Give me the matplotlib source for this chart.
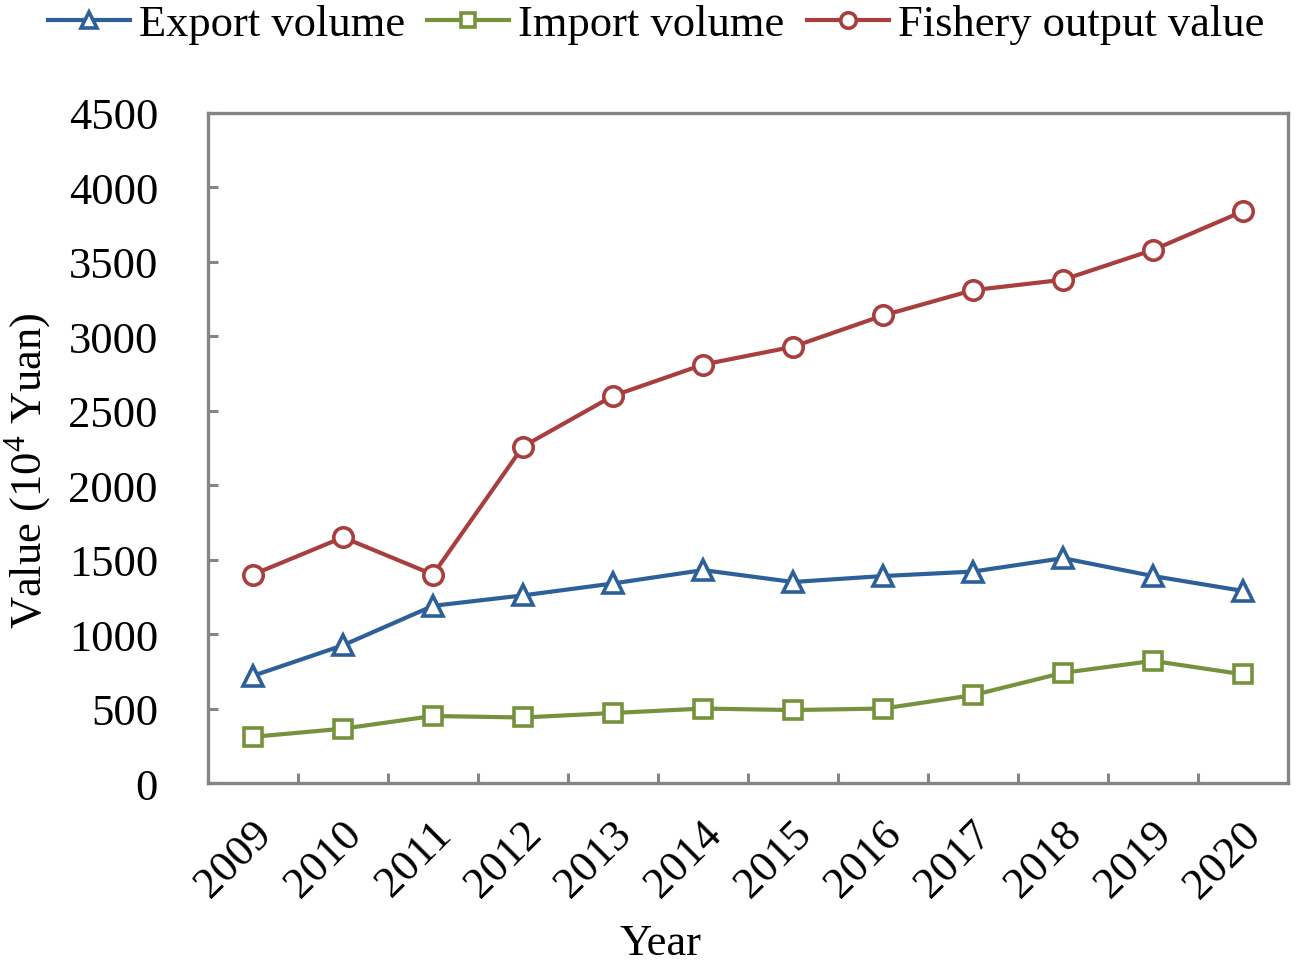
import matplotlib
matplotlib.use('Agg')
import matplotlib.pyplot as plt
import matplotlib.transforms as mtransforms

years = ['2009', '2010', '2011', '2012', '2013', '2014',
         '2015', '2016', '2017', '2018', '2019', '2020']
export_volume = [720, 925, 1190, 1260, 1340, 1430, 1350, 1390, 1420, 1510, 1390, 1290]
import_volume = [310, 365, 450, 440, 470, 500, 490, 500, 590, 740, 820, 730]
fishery_value = [1400, 1650, 1400, 2260, 2600, 2810, 2930, 3140, 3310, 3380, 3580, 3840]
y_ticks = [0, 500, 1000, 1500, 2000, 2500, 3000, 3500, 4000, 4500]

plt.rcParams['font.family'] = ['Liberation Serif', 'DejaVu Serif']
plt.rcParams['mathtext.fontset'] = 'custom'
plt.rcParams['mathtext.rm'] = 'Liberation Serif'

fig = plt.figure(figsize=(12.99, 9.62), dpi=100)
ax = fig.add_axes([208/1299, 1-784/962, (1288-208)/1299, (784-114)/962])

x = list(range(len(years)))
axis_grey = '#858585'
fs = 32

ax.plot(x, export_volume, color='#2D5F99', lw=3, marker='^', ms=14,
        mfc='white', mec='#2D5F99', mew=2.6, label='Export volume')
ax.plot(x, import_volume, color='#76923C', lw=3, marker='s', ms=13,
        mfc='white', mec='#76923C', mew=2.6, label='Import volume')
ax.plot(x, fishery_value, color='#A93E3E', lw=3, marker='o', ms=14,
        mfc='white', mec='#A93E3E', mew=2.6, label='Fishery output value')

ax.set_xlim(-0.5, len(years) - 0.5)
ax.set_ylim(0, 4500)
ax.set_yticks(y_ticks)
ax.set_yticklabels([str(v) for v in y_ticks], fontsize=fs)

# category labels at the points, tick marks between categories (Excel style)
ax.set_xticks(x)
ax.set_xticklabels(years, fontsize=fs, rotation=45, ha='right', va='center',
                   rotation_mode='anchor')
ax.set_xticks([i + 0.5 for i in range(len(years) - 1)], minor=True)
ax.tick_params(axis='x', which='major', length=0, pad=32)
ax.tick_params(axis='x', which='minor', direction='in', length=7, width=2.2,
               color=axis_grey)
ax.tick_params(axis='y', direction='in', length=7, width=2.2, color=axis_grey,
               pad=36)
offset = mtransforms.ScaledTranslation(12/100, 0, fig.dpi_scale_trans)
for lbl in ax.get_xticklabels():
    lbl.set_transform(lbl.get_transform() + offset)

for sp in ax.spines.values():
    sp.set_color(axis_grey)
    sp.set_linewidth(2.4)

fig.text(660/1299, 1-944/962, 'Year', fontsize=fs, ha='center', va='center')
fig.text(28/1299, 1-471/962, r'Value (10$^{\mathrm{4}}$ Yuan)', fontsize=fs,
         rotation=90, ha='center', va='center')

fig.legend(loc='center', bbox_to_anchor=(656/1299, 1-25/962), ncol=3,
           frameon=False, fontsize=fs, handlelength=1.85, handletextpad=0.2,
           columnspacing=0.5, markerscale=0.8)

fig.savefig('out.png', dpi=100)
